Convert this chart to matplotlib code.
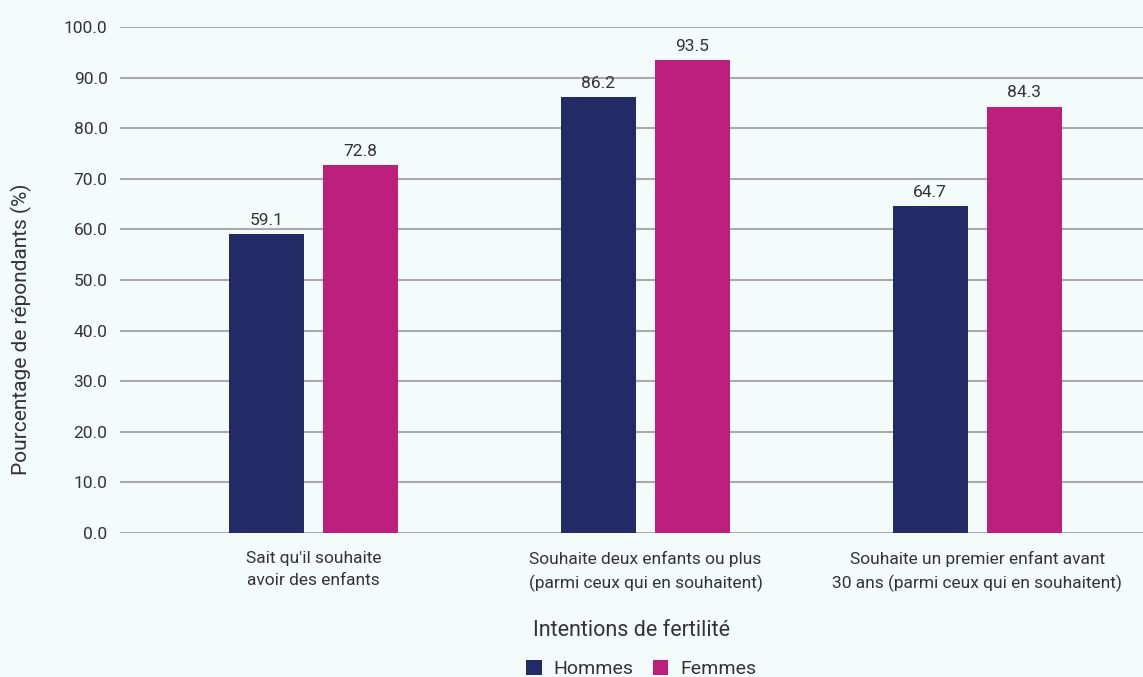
import numpy as np
import matplotlib.pyplot as plt

categories = ["Sait qu'il souhaite\navoir des enfants",
              "Souhaite deux enfants ou plus\n(parmi ceux qui en souhaitent)",
              "Souhaite un premier enfant avant\n30 ans (parmi ceux qui en souhaitent)"]
hommes = [59.1, 86.2, 64.7]
femmes = [72.8, 93.5, 84.3]

plt.rcParams['font.family'] = ['Roboto', 'DejaVu Sans']

bg = '#F3FBFB'
txt = '#333333'
c_h = '#232B66'
c_f = '#BC1F7C'

fig = plt.figure(figsize=(11.43, 6.77), dpi=100, facecolor=bg)
ax = fig.add_axes([0.105, 0.2127, 0.895, 0.7473], facecolor=bg)

x = np.arange(len(categories))
w = 0.226
off = 0.142
b1 = ax.bar(x - off, hommes, w, color=c_h, label='Hommes', zorder=3)
b2 = ax.bar(x + off, femmes, w, color=c_f, label='Femmes', zorder=3)
for bars, vals in ((b1, hommes), (b2, femmes)):
    for b, v in zip(bars, vals):
        ax.text(b.get_x() + b.get_width() / 2, v + 1.2, f'{v:.1f}', ha='center', va='bottom',
                fontsize=12.5, color=txt)

ax.set_xlim(-0.584, 2.5)
ax.set_ylim(0, 100)
ax.set_yticks(np.arange(0, 101, 10))
ax.set_yticklabels([f'{v:.1f}' for v in np.arange(0, 101, 10)], fontsize=12.5, color=txt)
ax.set_xticks(x)
ax.set_xticklabels(categories, fontsize=12.5, color=txt, linespacing=1.55)
ax.tick_params(axis='y', length=0, pad=9)
ax.tick_params(axis='x', length=0, pad=13)
ax.grid(axis='y', color='#AAAAAA', linewidth=1.5, zorder=0)
for s in ax.spines.values():
    s.set_visible(False)

ax.set_ylabel('Pourcentage de répondants (%)', fontsize=15, color=txt)
ax.yaxis.set_label_coords(-0.086, 0.403)
ax.set_xlabel('Intentions de fertilité', fontsize=15.5, color=txt, labelpad=20)

leg = fig.legend(loc='lower center', bbox_to_anchor=(0.561, -0.028), ncol=2, frameon=False,
                 fontsize=14, handlelength=0.8, handleheight=0.8, handletextpad=0.6,
                 columnspacing=1.0, labelcolor=txt)

fig.savefig('out.png', dpi=100, facecolor=bg)
